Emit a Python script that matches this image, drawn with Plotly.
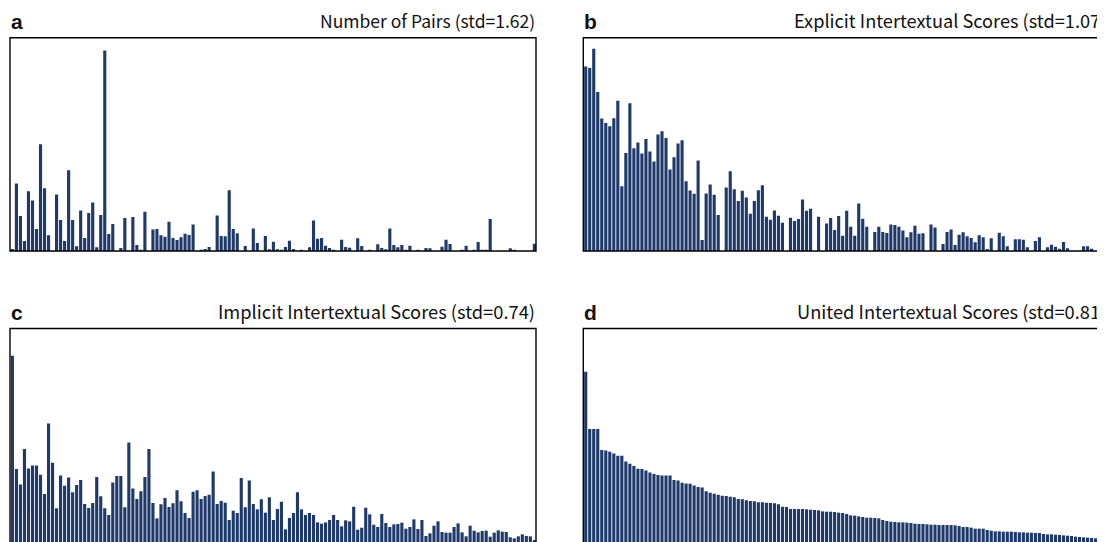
import plotly.graph_objects as go

# ---- data (bar heights, arbitrary units; 131 items per panel) ----
pairs = [6,203,105,30,180,152,66,321,189,47,0,170,93,30,243,93,14,122,39,114,
         146,11,108,603,51,81,0,9,99,0,102,18,4,118,0,65,66,47,43,88,
         39,33,41,52,48,80,0,4,6,12,0,107,45,44,183,66,53,0,15,0,
         68,24,0,45,5,28,5,3,12,31,6,0,2,0,11,92,37,39,16,9,
         2,0,34,12,10,0,38,15,0,2,0,20,9,5,68,18,11,18,3,16,
         0,3,0,9,8,0,0,13,34,21,0,0,4,16,0,2,27,2,2,96,
         0,0,0,0,8,3,0,0,0,0,22]
explicit = [555,550,608,478,398,385,375,399,452,195,295,444,309,326,293,337,299,269,350,360,
            340,245,282,323,333,210,182,172,272,33,173,200,169,108,0,191,240,186,150,181,
            161,112,150,183,198,103,94,122,106,85,0,100,90,96,155,121,127,0,103,0,
            83,99,63,105,46,121,73,46,143,97,73,0,57,73,57,54,80,78,73,62,
            41,56,76,52,53,0,80,71,0,21,57,65,18,49,56,44,39,26,47,41,
            6,38,0,55,44,14,0,35,35,34,11,0,30,41,0,11,19,13,7,27,
            8,0,0,0,14,14,7,0,0,0,0]
implicit = [559,219,173,279,221,230,230,202,144,356,238,101,200,169,194,149,171,186,114,102,
            117,195,137,101,81,179,198,198,104,299,161,129,152,195,279,117,71,113,132,105,
            116,155,122,87,72,151,155,129,138,142,212,114,123,118,66,94,87,192,104,185,
            114,98,128,88,134,66,99,121,38,72,87,149,98,81,87,81,59,55,59,66,
            81,66,47,65,62,106,37,43,103,83,52,45,84,57,45,53,54,58,40,45,
            68,39,66,18,26,49,62,30,28,28,45,56,29,17,49,34,29,33,34,16,
            28,35,31,30,14,11,17,23,18,17,6]
united = [511,339,339,339,276,275,271,266,259,259,242,235,228,220,219,215,209,204,201,200,
          200,200,186,185,178,176,175,170,165,164,152,148,145,142,139,138,136,134,129,128,
          125,123,122,119,119,118,117,116,113,106,105,99,99,99,99,98,97,96,95,92,
          91,91,90,88,87,84,80,79,77,75,73,73,72,71,66,63,61,60,59,59,
          58,57,55,54,54,53,52,52,51,51,51,51,50,48,45,45,43,40,40,40,
          36,34,32,32,31,31,31,30,29,29,28,28,27,27,24,23,23,22,21,20,
          19,18,16,15,14,13,12,11,10,9,8]

letters = ["a", "b", "c", "d"]
titles = ["Number of Pairs (std=1.62)",
          "Explicit Intertextual Scores (std=1.07)",
          "Implicit Intertextual Scores (std=0.74)",
          "United Intertextual Scores (std=0.81)"]
series = [pairs, explicit, implicit, united]

W, H = 1105, 542
OFF = 8  # page body margin
BAR = "#1F3A6A"

def px(p):
    return (p - OFF) / W

def py(p):
    return (H - (p - OFF)) / H

# panel page-pixel boxes: left, right, top, bottom(baseline)
boxes = [(10, 536, 37.8, 251.0), (583.3, 1109.3, 37.8, 251.0),
         (10, 536, 328.5, 542.0), (583.3, 1109.3, 328.5, 542.0)]
title_sizes = [17.5, 18.2, 18.3, 18.3]
title_shift = [1, -1.5, 1, -1.5]

fig = go.Figure()
shapes = []
annotations = []
for i, (vals, (l, r, t, b)) in enumerate(zip(series, boxes)):
    n = i + 1
    xa = "x" if n == 1 else f"x{n}"
    ya = "y" if n == 1 else f"y{n}"
    cats = list(range(len(vals)))
    fig.add_trace(go.Bar(x=cats, y=vals, xaxis=xa, yaxis=ya,
                         marker=dict(color=BAR, line=dict(width=0)),
                         showlegend=False, hoverinfo="skip"))
    start = -0.6
    end = start + (r - l) / 4.015
    xkey = "xaxis" if n == 1 else f"xaxis{n}"
    ykey = "yaxis" if n == 1 else f"yaxis{n}"
    fig.layout[xkey] = dict(domain=[px(l), px(r)], range=[start, end],
                            showticklabels=False, showgrid=False, zeroline=False,
                            ticks="", anchor=ya, fixedrange=True)
    fig.layout[ykey] = dict(domain=[py(b), py(t)], range=[0, 641],
                            showticklabels=False, showgrid=False, zeroline=False,
                            ticks="", anchor=xa, fixedrange=True)
    bottom_y = py(b) if b < 540 else py(b + 2.5)
    shapes.append(dict(type="rect", xref="paper", yref="paper",
                       x0=px(l), x1=px(r), y0=bottom_y, y1=py(t),
                       line=dict(color="black", width=1.4), fillcolor="rgba(0,0,0,0)"))
    annotations.append(dict(text="<b>" + letters[i] + "</b>", xref="paper", yref="paper",
                            x=px(l - 1.5), y=py(t - 16), xanchor="left", yanchor="middle",
                            showarrow=False,
                            font=dict(family="Liberation Sans, Arial", size=21, color="#111")))
    annotations.append(dict(text=titles[i], xref="paper", yref="paper",
                            x=px(r + title_shift[i]), y=py(t - 17.5), xanchor="right",
                            yanchor="middle", showarrow=False,
                            font=dict(family="Noto Sans CJK SC", size=title_sizes[i], color="#111")))

fig.update_layout(width=W, height=H, margin=dict(l=0, r=0, t=0, b=0),
                  paper_bgcolor="white", plot_bgcolor="white",
                  bargap=0.22, shapes=shapes, annotations=annotations)

fig.write_html("out.html")
